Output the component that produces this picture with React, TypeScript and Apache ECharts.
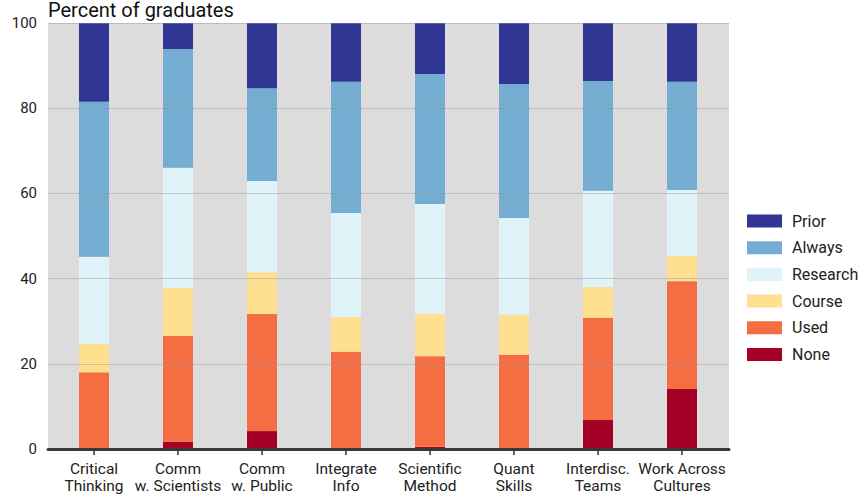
import React, { useEffect, useRef } from "react";
import * as echarts from "echarts";

const categories = [
  "Critical\nThinking",
  "Comm\nw. Scientists",
  "Comm\nw. Public",
  "Integrate\nInfo",
  "Scientific\nMethod",
  "Quant\nSkills",
  "Interdisc.\nTeams",
  "Work Across\nCultures",
];

const noneVals = [0, 1.7, 4.2, 0, 0.5, 0, 6.8, 14.1];
const usedVals = [18.0, 24.8, 27.5, 22.8, 21.3, 22.1, 24.0, 25.3];
const courseVals = [6.7, 11.3, 9.8, 8.2, 9.9, 9.4, 7.2, 5.9];
const researchVals = [20.4, 28.2, 21.4, 24.4, 25.8, 22.7, 22.6, 15.5];
const alwaysVals = [36.4, 27.9, 21.8, 30.8, 30.5, 31.5, 25.8, 25.4];
const priorVals = [18.5, 6.1, 15.3, 13.8, 12.0, 14.3, 13.6, 13.8];

const seriesNames = ["None", "Used", "Course", "Research", "Always", "Prior"];
const seriesColors = ["#a50026", "#f46d43", "#fee090", "#e0f3f8", "#74add1", "#313695"];
const seriesValues = [noneVals, usedVals, courseVals, researchVals, alwaysVals, priorVals];
const legendOrder = ["Prior", "Always", "Research", "Course", "Used", "None"];
const yTicks = { min: 0, max: 100, interval: 20 };

export default function App() {
  const ref = useRef<HTMLDivElement>(null);
  useEffect(() => {
    if (!ref.current) return;
    const chart = echarts.init(ref.current, null, { renderer: "svg" });
    const font = "Roboto";
    chart.setOption({
      animation: false,
      textStyle: { fontFamily: font },
      grid: [
        { left: 48, top: 23, width: 681, height: 426, show: true, backgroundColor: "#dcdcdc", borderWidth: 0 },
        { left: 52, top: 23, width: 672, height: 426, show: false },
      ],
      legend: {
        data: legendOrder,
        orient: "vertical",
        left: 742,
        top: 208,
        itemWidth: 35,
        itemHeight: 13,
        itemGap: 10.7,
        icon: "rect",
        textStyle: { fontSize: 16, color: "#222", fontFamily: font, padding: [0, 0, 0, 5] },
      },
      xAxis: [
        {
          gridIndex: 0,
          type: "category",
          data: categories,
          z: 4,
          axisLine: { show: true, lineStyle: { color: "#3a3a3a", width: 3 } },
          axisTick: { show: false },
          axisLabel: { show: false },
          splitLine: { show: false },
        },
        {
          gridIndex: 1,
          type: "category",
          data: categories,
          z: 5,
          axisLine: { show: false },
          axisTick: { show: true, alignWithLabel: true, interval: 0, length: 6, lineStyle: { color: "#333", width: 1.5 } },
          axisLabel: { interval: 0, fontSize: 15.5, color: "#222", lineHeight: 17, margin: 11, fontFamily: font },
          splitLine: { show: false },
        },
      ],
      yAxis: [
        {
          gridIndex: 0,
          type: "value",
          min: yTicks.min,
          max: yTicks.max,
          interval: yTicks.interval,
          z: 3,
          name: "Percent of graduates",
          nameLocation: "end",
          nameGap: 3,
          nameTextStyle: { fontSize: 20, color: "#111", align: "left", fontFamily: font },
          axisLine: { show: false },
          axisTick: { show: false },
          axisLabel: { fontSize: 15, color: "#222", margin: 11, fontFamily: font },
          splitLine: { show: true, lineStyle: { color: "rgba(150,150,150,0.45)", width: 1 } },
        },
        {
          gridIndex: 1,
          type: "value",
          min: yTicks.min,
          max: yTicks.max,
          interval: yTicks.interval,
          show: false,
          splitLine: { show: false },
        },
      ],
      series: seriesNames.map((name, i) => ({
        name,
        type: "bar",
        stack: "total",
        xAxisIndex: 1,
        yAxisIndex: 1,
        barWidth: 30,
        itemStyle: { color: seriesColors[i] },
        data: seriesValues[i],
      })),
    });
    return () => chart.dispose();
  }, []);
  return <div ref={ref} style={{ position: "absolute", left: 0, top: 0, width: 863, height: 500 }} />;
}
